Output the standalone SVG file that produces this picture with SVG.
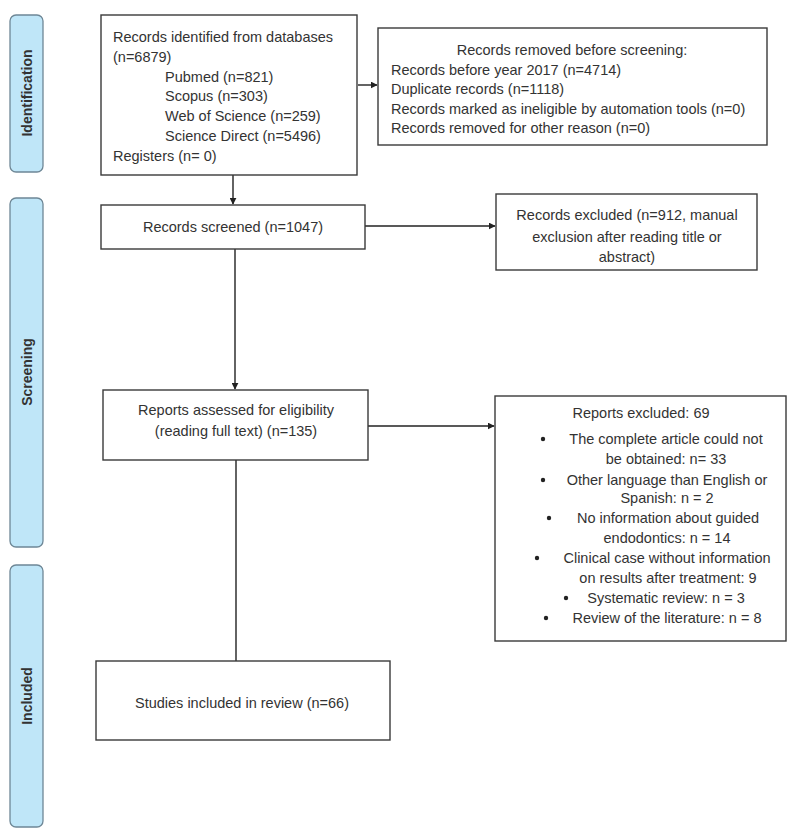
<svg xmlns="http://www.w3.org/2000/svg" width="796" height="837" viewBox="0 0 796 837">
<defs>
<style>
.box{fill:#fff;stroke:#3a3a3a;stroke-width:1.4}
.bar{fill:#bfe6f8;stroke:#6e8796;stroke-width:1.3}
.t{font-family:"Liberation Sans",Arial,sans-serif;font-size:14.5px;fill:#333}
.c{text-anchor:middle}
.side{font-family:"Liberation Sans",Arial,sans-serif;font-size:14px;font-weight:bold;fill:#333;text-anchor:middle}
.ln{stroke:#222;stroke-width:1.4;fill:none}
</style>
<marker id="ah" viewBox="0 0 10 10" refX="9" refY="5" markerWidth="7" markerHeight="7" orient="auto" markerUnits="userSpaceOnUse">
<path d="M0,0 L10,5 L0,10 Z" fill="#222"/>
</marker>
</defs>
<rect width="796" height="837" fill="#fff"/>

<g id="phase-identification">
<rect class="bar" x="10" y="15" width="33" height="157" rx="6"/>
<text class="side" transform="translate(32,93) rotate(-90)">Identification</text>
</g>
<g id="phase-screening">
<rect class="bar" x="10" y="198" width="33" height="349" rx="6"/>
<text class="side" transform="translate(32,372) rotate(-90)">Screening</text>
</g>
<g id="phase-included">
<rect class="bar" x="10" y="565" width="33" height="262" rx="6"/>
<text class="side" transform="translate(32,696) rotate(-90)">Included</text>
</g>

<g id="connectors">
<line class="ln" x1="358" y1="85" x2="377" y2="85" marker-end="url(#ah)"/>
<line class="ln" x1="233" y1="158" x2="233" y2="204" marker-end="url(#ah)"/>
<line class="ln" x1="365" y1="226" x2="495" y2="226" marker-end="url(#ah)"/>
<line class="ln" x1="235" y1="249" x2="235" y2="389" marker-end="url(#ah)"/>
<line class="ln" x1="368" y1="426" x2="494" y2="426" marker-end="url(#ah)"/>
<line class="ln" x1="236" y1="460" x2="236" y2="661"/>
</g>

<g id="identified">
<rect class="box" x="101" y="15" width="256" height="160" fill="none"/>
<text class="t" x="113" y="42">Records identified from databases</text>
<text class="t" x="113" y="62">(n=6879)</text>
<text class="t" x="165" y="82">Pubmed (n=821)</text>
<text class="t" x="165" y="101">Scopus (n=303)</text>
<text class="t" x="165" y="121">Web of Science (n=259)</text>
<text class="t" x="165" y="141">Science Direct (n=5496)</text>
<text class="t" x="113" y="161">Registers (n= 0)</text>
</g>

<g id="removed">
<rect class="box" x="378" y="28" width="389" height="117"/>
<text class="t c" x="572" y="55">Records removed before screening:</text>
<text class="t" x="391" y="75">Records before year 2017 (n=4714)</text>
<text class="t" x="391" y="94">Duplicate records (n=1118)</text>
<text class="t" x="391" y="114">Records marked as ineligible by automation tools (n=0)</text>
<text class="t" x="391" y="133">Records removed for other reason (n=0)</text>
</g>

<g id="screened">
<rect class="box" x="101" y="205" width="264" height="44"/>
<text class="t c" x="233" y="232">Records screened (n=1047)</text>
</g>

<g id="excluded">
<rect class="box" x="496" y="194" width="261" height="76"/>
<text class="t c" x="627" y="220">Records excluded (n=912, manual</text>
<text class="t c" x="627" y="242">exclusion after reading title or</text>
<text class="t c" x="627" y="262">abstract)</text>
</g>

<g id="assessed">
<rect class="box" x="103" y="390" width="265" height="70"/>
<text class="t c" x="236" y="415">Reports assessed for eligibility</text>
<text class="t c" x="236" y="436">(reading full text) (n=135)</text>
</g>

<g id="reports-excluded">
<rect class="box" x="495" y="396" width="291" height="245"/>
<text class="t c" x="641" y="418">Reports excluded: 69</text>
<g fill="#222">
<circle cx="543" cy="439" r="2.2"/>
<circle cx="543" cy="480" r="2.2"/>
<circle cx="549" cy="518" r="2.2"/>
<circle cx="537" cy="558" r="2.2"/>
<circle cx="566" cy="598" r="2.2"/>
<circle cx="546" cy="618" r="2.2"/>
</g>
<text class="t c" x="666" y="444">The complete article could not</text>
<text class="t c" x="666" y="464">be obtained: n= 33</text>
<text class="t c" x="667" y="485">Other language than English or</text>
<text class="t c" x="667" y="503">Spanish: n = 2</text>
<text class="t c" x="668" y="523">No information about guided</text>
<text class="t c" x="667" y="543">endodontics: n = 14</text>
<text class="t c" x="667" y="563">Clinical case without information</text>
<text class="t c" x="668" y="583">on results after treatment: 9</text>
<text class="t c" x="666" y="603">Systematic review: n = 3</text>
<text class="t c" x="667" y="623">Review of the literature: n = 8</text>
</g>

<g id="included">
<rect class="box" x="96" y="661" width="294" height="79"/>
<text class="t c" x="242" y="708">Studies included in review (n=66)</text>
</g>
</svg>
